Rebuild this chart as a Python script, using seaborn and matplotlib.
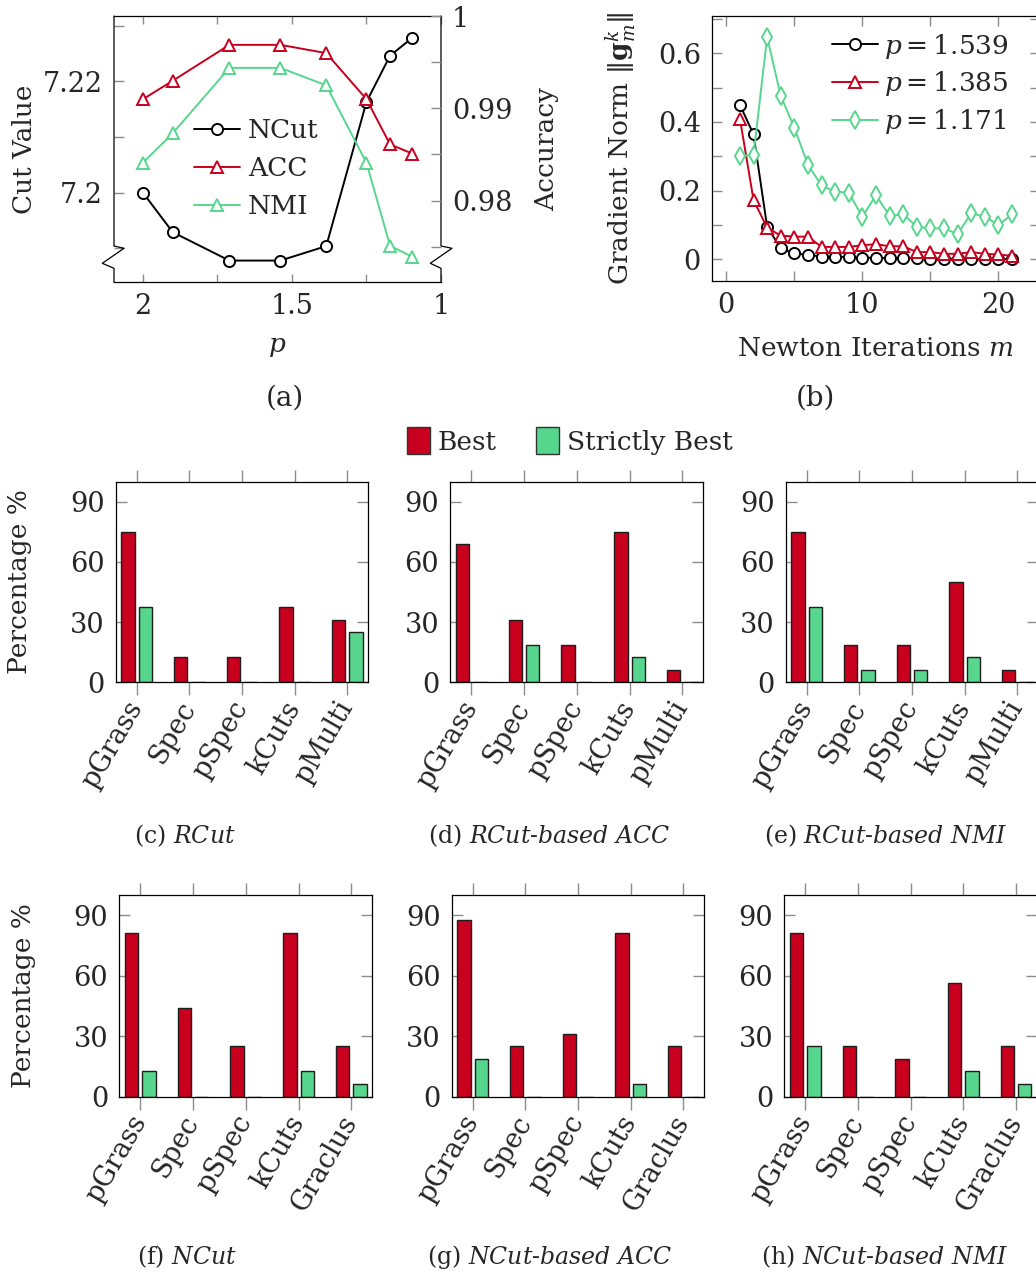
import matplotlib
matplotlib.use("Agg")
import matplotlib.pyplot as plt
import seaborn as sns
import numpy as np
import pandas as pd
from matplotlib.patches import Patch
from matplotlib.lines import Line2D

# ---------------- data ----------------
p_values = [2.0, 1.9, 1.71, 1.539, 1.385, 1.25, 1.171, 1.097]
ncut_values = [7.2, 7.1929, 7.1878, 7.1878, 7.1904, 7.2163, 7.2246, 7.2278]
acc_values = [0.9910, 0.9930, 0.9969, 0.9969, 0.9960, 0.9910, 0.9861, 0.9851]
nmi_values = [0.9841, 0.9873, 0.9944, 0.9944, 0.9925, 0.9841, 0.9751, 0.9739]

iterations = list(range(1, 22))
grad_p1539 = [0.450, 0.364, 0.095, 0.032, 0.017, 0.013, 0.008, 0.008, 0.006, 0.005, 0.004,
              0.004, 0.003, 0.003, 0.002, 0.002, 0.001, 0.001, 0.001, 0.001, 0.0]
grad_p1385 = [0.410, 0.173, 0.092, 0.069, 0.066, 0.066, 0.036, 0.036, 0.036, 0.041, 0.044,
              0.038, 0.038, 0.021, 0.021, 0.016, 0.016, 0.021, 0.016, 0.014, 0.010]
grad_p1171 = [0.301, 0.304, 0.647, 0.476, 0.383, 0.275, 0.215, 0.197, 0.194, 0.124, 0.187,
              0.126, 0.131, 0.095, 0.090, 0.090, 0.074, 0.134, 0.124, 0.100, 0.131]

methods_rcut = ["pGrass", "Spec", "pSpec", "kCuts", "pMulti"]
methods_ncut = ["pGrass", "Spec", "pSpec", "kCuts", "Graclus"]
rcut_best = [75, 12.5, 12.5, 37.5, 31.25]
rcut_strict = [37.5, 0, 0, 0, 25]
rcut_acc_best = [68.75, 31.25, 18.75, 75, 6.25]
rcut_acc_strict = [0, 18.75, 0, 12.5, 0]
rcut_nmi_best = [75, 18.75, 18.75, 50, 6.25]
rcut_nmi_strict = [37.5, 6.25, 6.25, 12.5, 0]
ncut_best = [81.25, 43.75, 25, 81.25, 25]
ncut_strict = [12.5, 0, 0, 12.5, 6.25]
ncut_acc_best = [87.5, 25, 31.25, 81.25, 25]
ncut_acc_strict = [18.75, 0, 0, 6.25, 0]
ncut_nmi_best = [81.25, 25, 18.75, 56.25, 25]
ncut_nmi_strict = [25, 0, 0, 12.5, 6.25]

# ---------------- style ----------------
sns.set_theme(style="white")
plt.rcParams["font.family"] = ["DejaVu Serif"]
plt.rcParams["mathtext.fontset"] = "dejavuserif"
plt.rcParams["font.size"] = 19
plt.rcParams["axes.linewidth"] = 0.9
plt.rcParams["axes.edgecolor"] = "black"

RED = "#C8001E"
GREEN = "#57D68D"
EDGE = "#1e1e1e"
TICKC = "#8c8c8c"
FS = 19
TFS = 19.5

W, H = 1036, 1277
fig = plt.figure(figsize=(W / 100, H / 100), dpi=100)


def rect(l, r, t, b):
    return [l / W, 1 - b / H, (r - l) / W, (b - t) / H]


# ---------------- panel (a) ----------------
ax = fig.add_axes(rect(114, 441, 16, 282))
ax2 = ax.twinx()
lk = dict(markersize=8, markerfacecolor="white", markeredgewidth=1.4, linewidth=1.4)
sns.lineplot(x=p_values, y=ncut_values, ax=ax, color="black", marker="o",
             markeredgecolor="black", **lk)
sns.lineplot(x=p_values, y=acc_values, ax=ax2, color=RED, marker="^",
             markeredgecolor=RED, **lk)
sns.lineplot(x=p_values, y=nmi_values, ax=ax2, color=GREEN, marker="^",
             markeredgecolor=GREEN, **lk)
ax.set_xlim(2.097, 1.0)
ax.set_ylim(7.18395, 7.23174)
ax2.set_ylim(0.97116, 1.00003)
ax.set_xticks([2, 1.5, 1], ["2", "1.5", "1"])
ax.set_xticks([1.75, 1.25], minor=True)
ax.set_yticks([7.2, 7.22], ["7.2", "7.22"])
ax.set_yticks([7.19, 7.21, 7.23], minor=True)
ax2.set_yticks([0.98, 0.99, 1.0], ["0.98", "0.99", "1"])
ax2.set_yticks([0.975, 0.985, 0.995], minor=True)
ax.tick_params(axis="x", which="both", direction="in", top=True, bottom=True,
               length=6, width=1, color=TICKC, labelsize=TFS, pad=8)
ax.tick_params(axis="y", which="both", direction="in", left=True, right=False,
               length=7, width=1, color=TICKC, labelsize=TFS, pad=8)
ax2.tick_params(axis="y", which="both", direction="in", left=False, right=True,
                length=7, width=1, color=TICKC, labelsize=TFS, pad=8)
ax.set_xlabel("$p$", fontsize=FS, labelpad=10)
ax.set_ylabel("Cut Value", fontsize=FS)
ax.yaxis.set_label_coords(-0.235, 0.5)
ax2.set_ylabel("Accuracy", fontsize=FS)
ax2.yaxis.set_label_coords(1.284, 0.5)
for s in ["left", "right"]:
    ax.spines[s].set_visible(False)
for s in ax2.spines.values():
    s.set_visible(False)
f = lambda y: (282 - y) / 266
for x0, d1, d2 in [(0, 10 / 327, -11.7 / 327), (1, 11 / 327, -10.7 / 327)]:
    xs = [x0, x0, x0 + d1, x0 + d2, x0, x0]
    ys = [1, f(246), f(248.3), f(263.3), f(268.3), 0]
    ax.add_line(Line2D(xs, ys, transform=ax.transAxes, color="black", lw=0.9,
                       clip_on=False, zorder=5))
for a in (ax, ax2):
    if a.get_legend() is not None:
        a.get_legend().remove()
hA = [Line2D([], [], color="black", marker="o", markeredgecolor="black", **lk),
      Line2D([], [], color=RED, marker="^", markeredgecolor=RED, **lk),
      Line2D([], [], color=GREEN, marker="^", markeredgecolor=GREEN, **lk)]
ax2.legend(hA, ["NCut", "ACC", "NMI"], loc="upper left", bbox_to_anchor=(0.245, 0.617),
           frameon=False, fontsize=FS, handlelength=1.75, handletextpad=0.3,
           labelspacing=0.5, borderpad=0, borderaxespad=0)

# ---------------- panel (b) ----------------
bx = fig.add_axes(rect(712, 1040, 15.7, 281))
lb = dict(markerfacecolor="white", markeredgewidth=1.4, linewidth=1.4)
sns.lineplot(x=iterations, y=grad_p1539, ax=bx, color="black", marker="o",
             markersize=8, markeredgecolor="black", **lb)
sns.lineplot(x=iterations, y=grad_p1385, ax=bx, color=RED, marker="^",
             markersize=8, markeredgecolor=RED, **lb)
sns.lineplot(x=iterations, y=grad_p1171, ax=bx, color=GREEN, marker="d",
             markersize=9, markeredgecolor=GREEN, **lb)
bx.set_xlim(-1.05, 23.05)
bx.set_ylim(-0.0632, 0.7095)
bx.set_xticks([0, 10, 20], ["0", "10", "20"])
bx.set_xticks([5, 15], minor=True)
bx.set_yticks([0, 0.2, 0.4, 0.6], ["0", "0.2", "0.4", "0.6"])
bx.set_yticks([0.1, 0.3, 0.5, 0.7], minor=True)
bx.tick_params(axis="both", which="both", direction="in", top=True, bottom=True,
               left=True, right=True, length=7, width=1, color=TICKC,
               labelsize=TFS, pad=8)
bx.set_xlabel("Newton Iterations $m$", fontsize=FS, labelpad=12)
bx.set_ylabel(r"Gradient Norm $\Vert\mathbf{g}_m^k\Vert$", fontsize=FS)
bx.yaxis.set_label_coords(-0.227, 0.5)
if bx.get_legend() is not None:
    bx.get_legend().remove()
hB = [Line2D([], [], color="black", marker="o", markersize=8, markeredgecolor="black", **lb),
      Line2D([], [], color=RED, marker="^", markersize=8, markeredgecolor=RED, **lb),
      Line2D([], [], color=GREEN, marker="d", markersize=9, markeredgecolor=GREEN, **lb)]
bx.legend(hB, ["$p = 1.539$", "$p = 1.385$", "$p = 1.171$"], loc="upper left",
          bbox_to_anchor=(0.366, 0.94), frameon=False, fontsize=FS, handlelength=1.75,
          handletextpad=0.2, labelspacing=0.33, borderpad=0, borderaxespad=0)

# ---------------- bar panels ----------------
def bar_panel(r, methods, best, strict, ylabel=None):
    a = fig.add_axes(rect(*r))
    df = pd.DataFrame({"method": methods * 2,
                       "kind": ["Best"] * len(methods) + ["Strictly Best"] * len(methods),
                       "value": best + strict})
    sns.barplot(data=df, x="method", y="value", hue="kind",
                palette={"Best": RED, "Strictly Best": GREEN}, saturation=1,
                width=0.66, gap=0.23, edgecolor=EDGE, linewidth=1.0,
                errorbar=None, legend=False, ax=a)
    a.set_xlim(-0.4, 4.4)
    a.set_ylim(0, 100)
    a.set_yticks([0, 30, 60, 90], ["0", "30", "60", "90"])
    a.tick_params(axis="y", which="both", direction="in", left=True, right=True,
                  length=8, width=1, color=TICKC, labelsize=TFS, pad=8)
    a.tick_params(axis="x", which="both", direction="out", top=True, bottom=True,
                  length=9, width=1, color=TICKC, labelsize=TFS, pad=6)
    for lab in a.get_xticklabels():
        lab.set_rotation(60)
        lab.set_ha("right")
        lab.set_va("center")
        lab.set_rotation_mode("anchor")
    a.set_xlabel("")
    if ylabel:
        a.set_ylabel(ylabel, fontsize=FS)
    else:
        a.set_ylabel("")
    for s in a.spines.values():
        s.set_color("black")
        s.set_linewidth(0.9)
    return a


c = bar_panel((115.7, 368.3, 481.7, 682.3), methods_rcut, rcut_best, rcut_strict, "Percentage %")
c.yaxis.set_label_coords(-0.33, 0.5)
bar_panel((450.3, 703.3, 481.7, 682.3), methods_rcut, rcut_acc_best, rcut_acc_strict)
bar_panel((785.7, 1038.4, 481.7, 682.3), methods_rcut, rcut_nmi_best, rcut_nmi_strict)
fb = bar_panel((119.3, 372.3, 895, 1096.7), methods_ncut, ncut_best, ncut_strict, "Percentage %")
fb.yaxis.set_label_coords(-0.328, 0.5)
bar_panel((451.7, 704.3, 895, 1096.7), methods_ncut, ncut_acc_best, ncut_acc_strict)
bar_panel((784.3, 1037, 895, 1096.7), methods_ncut, ncut_nmi_best, ncut_nmi_strict)

hL = [Patch(facecolor=RED, edgecolor="#333333", linewidth=1.0),
      Patch(facecolor=GREEN, edgecolor="#333333", linewidth=1.0)]
fig.legend(hL, ["Best", "Strictly Best"], loc="center", bbox_to_anchor=(570 / W, 1 - 441 / H),
           ncol=2, frameon=False, fontsize=FS, handlelength=0.85, handleheight=1.2,
           handletextpad=0.3, columnspacing=1.5)

# ---------------- captions ----------------
caps = [(285, 398, "(a)", 20), (815, 398, "(b)", 20),
        (185, 836, r"(c) $\mathit{RCut}$", 17),
        (549, 836, r"(d) $\mathit{RCut}$-$\mathit{based\ ACC}$", 17),
        (885, 836, r"(e) $\mathit{RCut}$-$\mathit{based\ NMI}$", 17),
        (187, 1257, r"(f) $\mathit{NCut}$", 17),
        (550, 1257, r"(g) $\mathit{NCut}$-$\mathit{based\ ACC}$", 17),
        (885, 1257, r"(h) $\mathit{NCut}$-$\mathit{based\ NMI}$", 17)]
for x, y, t, s in caps:
    fig.text(x / W, 1 - y / H, t, ha="center", va="center", fontsize=s)

fig.savefig("out.png", dpi=100)
